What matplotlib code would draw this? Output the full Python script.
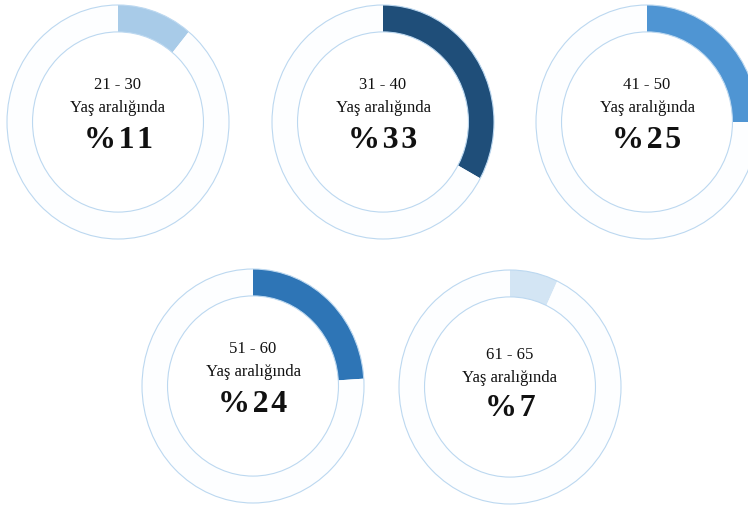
import matplotlib.pyplot as plt
from matplotlib.patches import Ellipse

age_groups = ["21 - 30", "31 - 40", "41 - 50", "51 - 60", "61 - 65"]
percents = [11, 33, 25, 24, 7]
slice_colors = ["#a8cbe8", "#1f4e79", "#4f95d3", "#2e75b6", "#d3e5f4"]
sub_label = "Yaş aralığında"

W, H = 748, 508
# donut centres in pixels (x, y from top)
centers = [(118, 122), (383, 122), (647, 122), (253, 386), (510, 387)]
rx, ry = 111, 117
ring = 0.23
edge = "#bcd8f0"

plt.rcParams["font.family"] = ["Liberation Serif", "DejaVu Serif"]
fig = plt.figure(figsize=(W / 100, H / 100), dpi=100)

for i, (cx, cy) in enumerate(centers):
    pad = 1.03
    ax = fig.add_axes([(cx - rx * pad) / W, 1 - (cy + ry * pad) / H,
                       2 * rx * pad / W, 2 * ry * pad / H])
    val = percents[i]
    ax.pie([val, 100 - val], colors=[slice_colors[i], "#fdfeff"],
           startangle=90, counterclock=False,
           wedgeprops=dict(width=ring, linewidth=0))
    ax.add_patch(Ellipse((0, 0), 2, 2, fill=False, ec=edge, lw=0.8))
    ax.add_patch(Ellipse((0, 0), 2 * (1 - ring), 2 * (1 - ring),
                         fill=False, ec=edge, lw=0.8))
    ax.set_aspect("auto")
    ax.set_xlim(-pad, pad)
    ax.set_ylim(-pad, pad)
    ax.axis("off")

    offs = (-37, -14, 19) if i < 4 else (-32, -9, 21)
    fig.text(cx / W, 1 - (cy + offs[0]) / H, age_groups[i],
             ha="center", va="center", fontsize=12, color="#111111")
    fig.text(cx / W, 1 - (cy + offs[1]) / H, sub_label,
             ha="center", va="center", fontsize=12, color="#111111")
    # slightly spaced percentage like the original
    txt = "\u200a".join("%" + str(val))
    fig.text(cx / W, 1 - (cy + offs[2]) / H, txt,
             ha="center", va="center", fontsize=23, fontweight="bold",
             color="#111111")

fig.savefig("out.png", dpi=100)
